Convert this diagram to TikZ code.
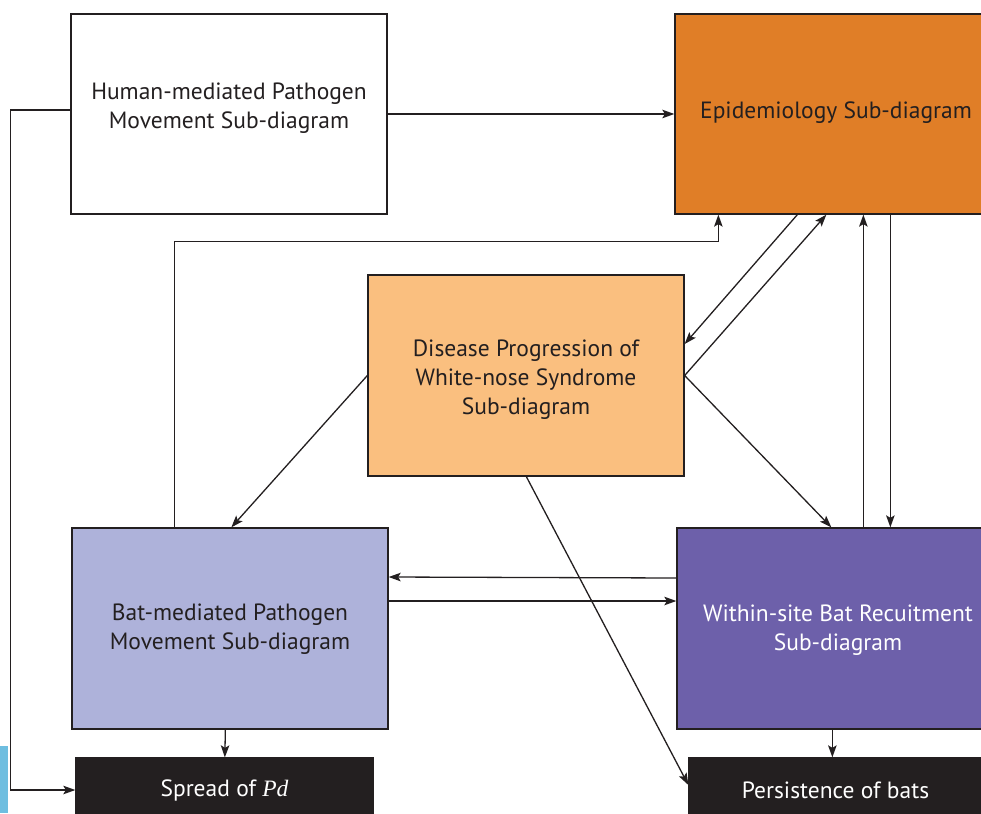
\documentclass[tikz,border=0pt]{standalone}
\usepackage{fontspec}
\setmainfont{PT Sans}
\newfontfamily\pdfont{Liberation Serif}
\usetikzlibrary{arrows.meta,calc}
\definecolor{dk}{HTML}{231F20}
\definecolor{epiC}{HTML}{E07E27}
\definecolor{disC}{HTML}{FABF7F}
\definecolor{batC}{HTML}{AEB2DA}
\definecolor{witC}{HTML}{6D60AA}
\definecolor{stripC}{HTML}{6EBEE0}
\begin{document}
\begin{tikzpicture}[x=1pt,y=-1pt,
  box/.style={draw=dk,line width=1.3pt,inner sep=0pt,align=center,font=\fontsize{23.5}{29}\selectfont,text=dk},
  txt/.style={align=center,font=\fontsize{23.5}{29}\selectfont,text=dk},
  arr/.style={-{Stealth[length=12pt,width=8.5pt,inset=2.5pt]},line width=1.3pt,draw=dk}]
\useasboundingbox (0,0) rectangle (981,813);
\fill[stripC] (0,746) rectangle (8,813);
\node[box,fill=white,minimum width=316pt,minimum height=200pt] (hum) at (229,114) {};
\node[txt] (humt) at (229,108) {Human-mediated Pathogen\\Movement Sub-diagram};
\node[box,fill=epiC,minimum width=322pt,minimum height=200pt] (epi) at (836,114) {};
\node[txt] (epit) at (836,113) {Epidemiology Sub-diagram};
\node[box,fill=disC,minimum width=316pt,minimum height=201pt] (dis) at (526,375.5) {};
\node[txt] (dist) at (526,380) {Disease Progression of\\White-nose Syndrome\\Sub-diagram};
\node[box,fill=batC,minimum width=316pt,minimum height=201pt] (bat) at (230,628.5) {};
\node[txt] (batt) at (230,629.5) {Bat-mediated Pathogen\\Movement Sub-diagram};
\node[box,fill=witC,minimum width=322pt,minimum height=201pt] (wit) at (838,628.5) {};
\node[txt,text=white] (witt) at (838,630) {Within-site Bat Recuitment\\Sub-diagram};
\node[box,fill=dk,text=white,minimum width=297pt,minimum height=64pt] (spr) at (224.5,790) {Spread of {\pdfont\itshape Pd}};
\node[box,fill=dk,text=white,minimum width=293pt,minimum height=64pt] (per) at (835.5,790) {Persistence of bats};
% connectors
\draw[arr] (hum.east) -- (epi.west);
\draw[arr] ([yshift=4pt]hum.west) -- ++(-60,0) |- (spr.west);
\draw[arr] ([xshift=103pt]bat.north west) -- ++(0,-286) -| ([xshift=44pt]epi.south west);
\draw[arr] ([xshift=123pt]epi.south west) -- ([yshift=31.5pt]dis.east);
\draw[arr] (dis.east) -- ([xshift=152pt]epi.south west);
\draw[arr] ([xshift=187pt]wit.north west) -- ([xshift=189pt]epi.south west);
\draw[arr] ([xshift=216pt]epi.south west) -- ([xshift=214pt]wit.north west);
\draw[arr] (dis.west) -- ([xshift=160pt]bat.north west);
\draw[arr] (dis.east) -- ([xshift=155pt]wit.north west);
\draw[arr] ([xshift=159pt]dis.south west) -- ([yshift=5pt]per.west);
\draw[arr] ([yshift=50.5pt]wit.west) -- ([yshift=51.5pt]bat.east);
\draw[arr] ([yshift=27.5pt]bat.east) -- ([yshift=27.5pt]wit.west);
\draw[arr] ([xshift=154pt]bat.south west) -- ([xshift=149.5pt]spr.north west);
\draw[arr] ([xshift=156pt]wit.south west) -- ([xshift=144pt]per.north west);
\end{tikzpicture}
\end{document}
